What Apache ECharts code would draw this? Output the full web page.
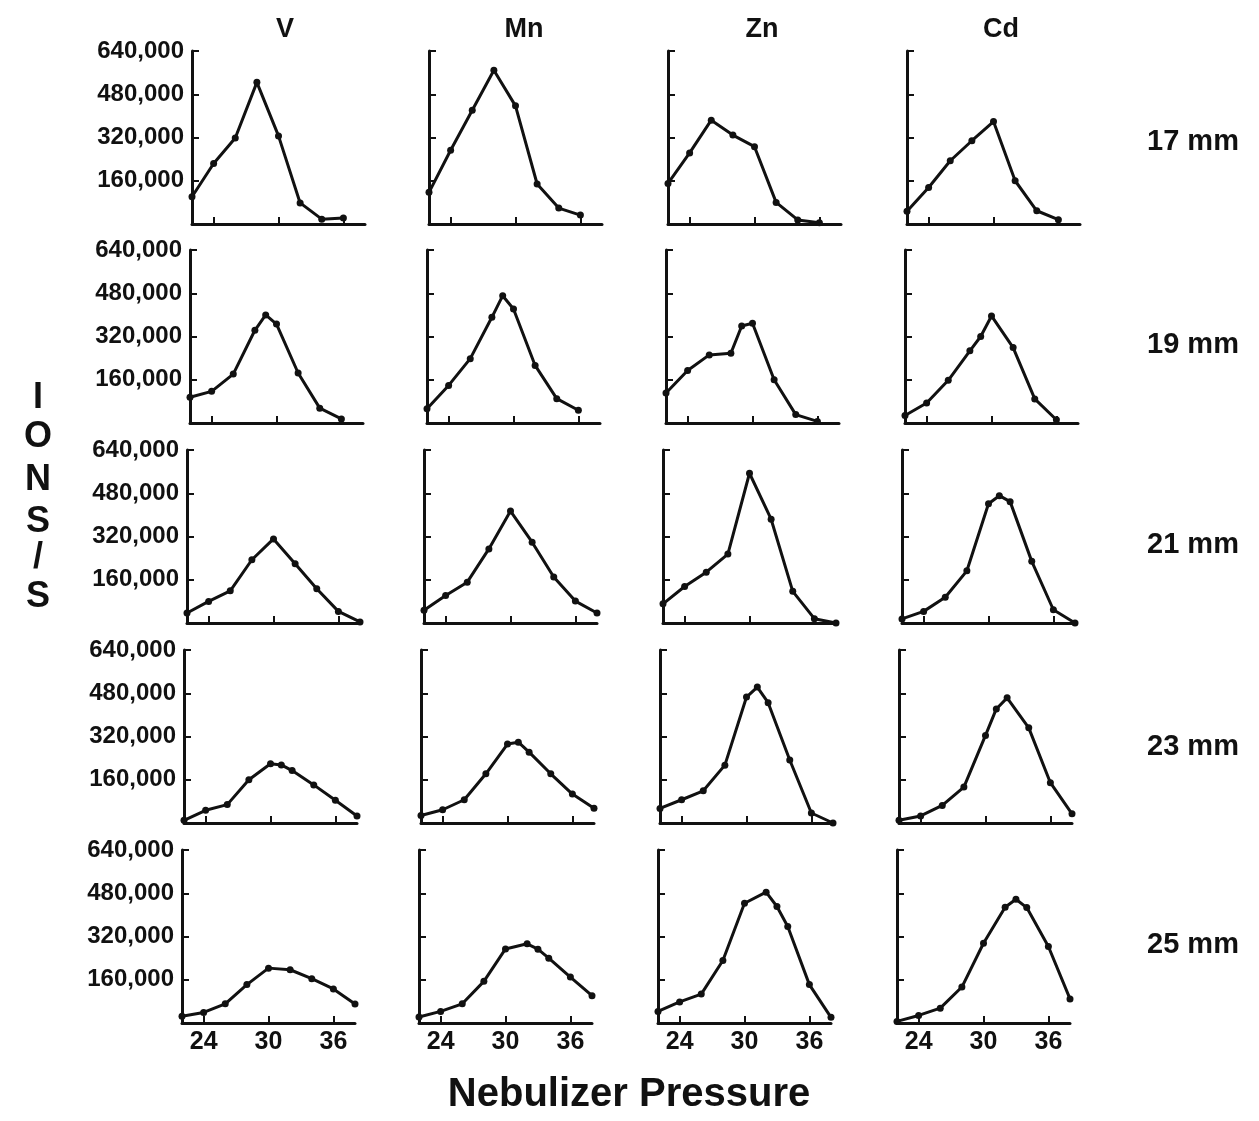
<!DOCTYPE html>
<html>
<head>
<meta charset="utf-8">
<script src="https://cdn.jsdelivr.net/npm/echarts@6/dist/echarts.min.js"></script>
<style>
  html, body { margin: 0; padding: 0; background: #fff; }
  #chart { width: 1259px; height: 1121px; }
</style>
</head>
<body>
<div id="chart"></div>
<script>
// tick labels
var pressureTicks = [24, 30, 36];
var ionTicks = [160000, 320000, 480000, 640000];
var elements = ['V', 'Mn', 'Zn', 'Cd'];
var distances = ['17 mm', '19 mm', '21 mm', '23 mm', '25 mm'];

// [nebulizer pressure, ions/s]
var V_17  = [[22,101000],[24,224000],[26,318000],[28,524000],[30,326000],[32,78000],[34,18000],[36,22000]];
var MN_17 = [[22,117000],[24,273000],[26,421000],[28,569000],[30,437000],[32,148000],[34,59000],[36,33000]];
var ZN_17 = [[22,150000],[24,263000],[26,384000],[28,329000],[30,286000],[32,80000],[34,15000],[36,5000]];
var CD_17 = [[22,47000],[24,135000],[26,234000],[28,308000],[30,379000],[32,160000],[34,49000],[36,16000]];

var V_19  = [[22,95000],[24,117000],[26,181000],[28,343000],[29,400000],[30,366000],[32,185000],[34,55000],[36,15000]];
var MN_19 = [[22,53000],[24,139000],[26,238000],[28,391000],[29,471000],[30,422000],[32,213000],[34,90000],[36,47000]];
var ZN_19 = [[22,111000],[24,194000],[26,252000],[28,258000],[29,359000],[30,369000],[32,160000],[34,31000],[36,6000]];
var CD_19 = [[22,28000],[24,74000],[26,158000],[28,267000],[29,320000],[30,396000],[32,279000],[34,89000],[36,12000]];

var V_21  = [[22,37000],[24,80000],[26,119000],[28,234000],[30,311000],[32,219000],[34,127000],[36,43000],[38,4000]];
var MN_21 = [[22,47000],[24,102000],[26,151000],[28,274000],[30,414000],[32,299000],[34,170000],[36,81000],[38,37000]];
var ZN_21 = [[22,71000],[24,135000],[26,188000],[28,255000],[30,554000],[32,384000],[34,117000],[36,16000],[38,0]];
var CD_21 = [[22,15000],[24,43000],[26,95000],[28,193000],[30,441000],[31,471000],[32,449000],[34,228000],[36,49000],[38,0]];

var V_23  = [[22,10000],[24,47000],[26,68000],[28,160000],[30,219000],[31,215000],[32,194000],[34,141000],[36,84000],[38,26000]];
var MN_23 = [[22,28000],[24,49000],[26,86000],[28,182000],[30,292000],[31,299000],[32,262000],[34,182000],[36,107000],[38,55000]];
var ZN_23 = [[22,54000],[24,86000],[26,119000],[28,214000],[30,466000],[31,503000],[32,445000],[34,233000],[36,37000],[38,0]];
var CD_23 = [[22,10000],[24,26000],[26,65000],[28,133000],[30,324000],[31,422000],[32,463000],[34,352000],[36,149000],[38,34000]];

var V_25  = [[22,25000],[24,39000],[26,71000],[28,142000],[30,203000],[32,197000],[34,164000],[36,126000],[38,70000]];
var MN_25 = [[22,22000],[24,43000],[26,71000],[28,154000],[30,274000],[32,293000],[33,273000],[34,240000],[36,170000],[38,101000]];
var ZN_25 = [[22,43000],[24,78000],[26,107000],[28,231000],[30,443000],[32,484000],[33,431000],[34,357000],[36,142000],[38,21000]];
var CD_25 = [[22,6000],[24,28000],[26,55000],[28,133000],[30,295000],[32,428000],[33,458000],[34,427000],[36,283000],[38,89000]];

var panels = [
  [V_17, MN_17, ZN_17, CD_17],
  [V_19, MN_19, ZN_19, CD_19],
  [V_21, MN_21, ZN_21, CD_21],
  [V_23, MN_23, ZN_23, CD_23],
  [V_25, MN_25, ZN_25, CD_25]
];

var FONT = 'Liberation Sans, Arial, sans-serif';
var INK = '#111';

// layout of the small panels
var colLeft = [187, 424, 663, 902];
var rowShift = [5, 3, 0, -3, -5];
var rowTop = [51, 250, 450, 650, 850];
var panelW = 173, panelH = 173;

var grids = [], xAxes = [], yAxes = [], series = [];
for (var r = 0; r < panels.length; r++) {
  for (var c = 0; c < elements.length; c++) {
    var i = grids.length;
    grids.push({ left: colLeft[c] + rowShift[r], top: rowTop[r], width: panelW, height: panelH });
    xAxes.push({
      gridIndex: i, type: 'value', min: 22, max: 38,
      axisLine: { show: true, lineStyle: { color: INK, width: 3 } },
      axisTick: { show: true, inside: true, length: 7, customValues: pressureTicks, lineStyle: { color: INK, width: 2 } },
      axisLabel: { show: r === panels.length - 1, customValues: pressureTicks, color: INK,
        fontFamily: FONT, fontWeight: 'bold', fontSize: 25, margin: 7 },
      splitLine: { show: false }
    });
    yAxes.push({
      gridIndex: i, type: 'value', min: 0, max: 640000,
      axisLine: { show: true, lineStyle: { color: INK, width: 3 } },
      axisTick: { show: true, inside: true, length: 7, customValues: ionTicks, lineStyle: { color: INK, width: 2 } },
      axisLabel: { show: c === 0, customValues: ionTicks, color: INK,
        fontFamily: FONT, fontWeight: 'bold', fontSize: 24, margin: 8 },
      splitLine: { show: false }
    });
    series.push({
      type: 'line', xAxisIndex: i, yAxisIndex: i,
      data: panels[r][c],
      symbol: 'circle', symbolSize: 7,
      lineStyle: { color: INK, width: 3 },
      itemStyle: { color: INK },
      silent: true, animation: false
    });
  }
}

var titles = [];
var colCenter = [280, 519, 757, 996];
for (var c = 0; c < elements.length; c++) {
  titles.push({ text: elements[c], left: colCenter[c], top: 11, textAlign: 'center',
    textStyle: { color: INK, fontFamily: FONT, fontWeight: 'bold', fontSize: 27 } });
}
var rowLabelY = [122, 325, 525, 727, 925];
for (var r = 0; r < distances.length; r++) {
  titles.push({ text: distances[r], left: 1188, top: rowLabelY[r], textAlign: 'center',
    textStyle: { color: INK, fontFamily: FONT, fontWeight: 'bold', fontSize: 29 } });
}
titles.push({ text: 'Nebulizer Pressure', left: 624, top: 1070, textAlign: 'center',
  textStyle: { color: INK, fontFamily: FONT, fontWeight: 'bold', fontSize: 40 } });

// vertical axis name, stacked letters
var yName = ['I', 'O', 'N', 'S', '/', 'S'];
var yNameTop = [375, 414, 457, 499, 535, 574];
for (var k = 0; k < yName.length; k++) {
  titles.push({ text: yName[k], left: 33, top: yNameTop[k], textAlign: 'center',
    textStyle: { color: INK, fontFamily: FONT, fontWeight: 'bold', fontSize: 36 } });
}

var myChart = echarts.init(document.getElementById('chart'));
myChart.setOption({
  backgroundColor: '#fff',
  animation: false,
  title: titles,
  grid: grids,
  xAxis: xAxes,
  yAxis: yAxes,
  series: series
});
</script>
</body>
</html>
